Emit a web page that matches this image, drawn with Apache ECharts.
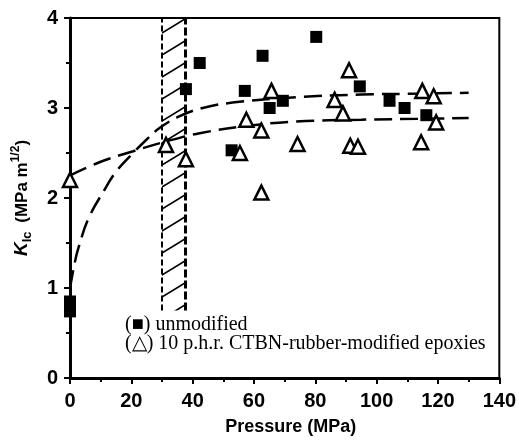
<!DOCTYPE html>
<html><head><meta charset="utf-8">
<script src="https://cdn.jsdelivr.net/npm/echarts@6/dist/echarts.min.js"></script>
<style>html,body{margin:0;padding:0;background:#fff;}#c{width:519px;height:441px;}</style>
</head><body><div id="c"></div>
<script>
// ---- data ----
const xTicks = [0, 20, 40, 60, 80, 100, 120, 140];
const yTicks = [0, 1, 2, 3, 4];
// unmodified epoxy (filled squares): [pressure MPa, K_Ic]
const unmodX = [0, 0, 37.8, 42.3, 52.7, 57, 62.8, 65.1, 69.4, 80.3, 94.5, 104.2, 109.1, 116.2];
const unmodY = [0.85, 0.74, 3.21, 3.50, 2.53, 3.19, 3.58, 3.00, 3.08, 3.79, 3.24, 3.08, 3.00, 2.92];
// 10 phr CTBN-rubber-modified (open triangles)
const modX = [0, 31.3, 37.8, 55.4, 57.5, 62.4, 62.4, 65.7, 74.2, 86.3, 89, 91, 91.4, 93.9, 114.5, 114.9, 118.6, 119.4];
const modY = [2.20, 2.59, 2.43, 2.50, 2.87, 2.75, 2.06, 3.19, 2.60, 3.09, 2.94, 3.42, 2.58, 2.57, 2.62, 3.19, 3.13, 2.84];
// dashed fit curves
const fitUnmodX = [0, 1.6, 2.7, 6, 11.4, 15.2, 20.6, 25, 29.3, 35.8, 43.3, 53, 73.8, 95, 115, 130];
const fitUnmodY = [1.0, 1.29, 1.44, 1.77, 2.1, 2.3, 2.5, 2.65, 2.78, 2.91, 3.0, 3.06, 3.12, 3.15, 3.16, 3.17];
const fitModX = [0, 9.8, 20.6, 31.5, 42.3, 57.5, 73.8, 95, 115, 130];
const fitModY = [2.25, 2.4, 2.52, 2.63, 2.72, 2.8, 2.85, 2.87, 2.88, 2.89];
// hatched band: [xFrom, xTo, yFrom, yTo]
const hatchBand = [30, 37.5, 0.75, 4];
const legendLines = ['(■) unmodified', '(△) 10 p.h.r. CTBN-rubber-modified epoxies'];

const zip = (a, b) => a.map((v, i) => [v, b[i]]);

// hatch pattern
const tile = document.createElement('canvas');
tile.width = 36; tile.height = 22;
const g = tile.getContext('2d');
g.strokeStyle = '#000'; g.lineWidth = 1.6;
g.beginPath();
g.moveTo(-36, 44); g.lineTo(72, -22);
g.moveTo(-36, 22); g.lineTo(36, -22);
g.moveTo(0, 44); g.lineTo(72, 0);
g.stroke();

const chart = echarts.init(document.getElementById('c'), null, {renderer: 'canvas'});
const tickFont = {fontFamily: 'Liberation Sans, Arial, sans-serif', fontWeight: 'bold', fontSize: 20, color: '#000'};
const nameFont = 'Liberation Sans, Arial, sans-serif';
chart.setOption({
  animation: false,
  backgroundColor: '#fff',
  grid: {left: 70, right: 19, top: 18, bottom: 61, show: true, borderColor: '#000', borderWidth: 2},
  xAxis: {
    type: 'value', min: xTicks[0], max: xTicks[xTicks.length - 1], interval: 20,
    name: 'Pressure (MPa)', nameLocation: 'middle', nameGap: 40,
    nameTextStyle: {fontFamily: nameFont, fontWeight: 'bold', fontSize: 18, color: '#000', padding: [0, 0, 0, 12]},
    axisLine: {lineStyle: {color: '#000', width: 3}},
    axisTick: {inside: false, length: 6, lineStyle: {width: 2, color: '#000'}},
    minorTick: {show: true, splitNumber: 2, length: 4, lineStyle: {width: 2, color: '#000'}},
    splitLine: {show: false},
    axisLabel: Object.assign({margin: 13}, tickFont)
  },
  yAxis: {
    type: 'value', min: yTicks[0], max: yTicks[yTicks.length - 1], interval: 1,
    name: '{k|K}{sub|Ic}{t| (MPa m}{sup|1/2}{t|)}', nameLocation: 'middle', nameGap: 36, nameRotate: 90,
    nameTextStyle: {
      rich: {
        k: {fontFamily: nameFont, fontWeight: 'bold', fontStyle: 'italic', fontSize: 19, color: '#000', lineHeight: 24},
        sub: {fontFamily: nameFont, fontWeight: 'bold', fontSize: 13, color: '#000', verticalAlign: 'bottom', lineHeight: 24, padding: [0, 4, 0, 0]},
        t: {fontFamily: nameFont, fontWeight: 'bold', fontSize: 17, color: '#000', lineHeight: 24},
        sup: {fontFamily: nameFont, fontWeight: 'bold', fontSize: 12, color: '#000', verticalAlign: 'top', lineHeight: 24}
      }
    },
    axisLine: {lineStyle: {color: '#000', width: 3}},
    axisTick: {inside: false, length: 6, lineStyle: {width: 2, color: '#000'}},
    minorTick: {show: true, splitNumber: 2, length: 4, lineStyle: {width: 2, color: '#000'}},
    splitLine: {show: false},
    axisLabel: Object.assign({margin: 12}, tickFont)
  },
  graphic: [{
    type: 'text', left: 125, top: 315,
    style: {text: legendLines.join('\n'), font: '20px "Liberation Serif", "Times New Roman", serif', fill: '#000', lineHeight: 19}
  }],
  series: [
    {
      type: 'line', name: 'band', data: [], silent: true,
      markArea: {
        silent: true,
        itemStyle: {color: {image: tile, repeat: 'repeat'}, borderWidth: 0},
        data: [[{coord: [hatchBand[0], hatchBand[2]]}, {coord: [hatchBand[1], hatchBand[3]]}]]
      },
      markLine: {
        silent: true, symbol: 'none', label: {show: false},
        data: [
          [{coord: [hatchBand[0], hatchBand[2]], lineStyle: {color: '#000', width: 2, type: [6, 3]}}, {coord: [hatchBand[0], hatchBand[3]]}],
          [{coord: [hatchBand[1], hatchBand[2]], lineStyle: {color: '#000', width: 3, type: [8, 3]}}, {coord: [hatchBand[1], hatchBand[3]]}]
        ]
      }
    },
    {
      type: 'line', name: 'fit unmodified', data: zip(fitUnmodX, fitUnmodY), smooth: 0.4, showSymbol: false, symbol: 'none',
      lineStyle: {color: '#000', width: 2.5, type: [18, 8]}, z: 3
    },
    {
      type: 'line', name: 'fit modified', data: zip(fitModX, fitModY), smooth: 0.4, showSymbol: false, symbol: 'none',
      lineStyle: {color: '#000', width: 2.5, type: [18, 8]}, z: 3
    },
    {
      type: 'scatter', name: 'unmodified', data: zip(unmodX, unmodY), symbol: 'rect', symbolSize: 12, clip: false,
      itemStyle: {color: '#000', opacity: 1}, z: 5
    },
    {
      type: 'scatter', name: '10 p.h.r. CTBN-rubber-modified epoxies', data: zip(modX, modY), symbol: 'triangle', symbolSize: 14, clip: false,
      itemStyle: {color: '#fff', borderColor: '#000', borderWidth: 2.5, opacity: 1}, z: 6
    }
  ]
});
</script></body></html>
